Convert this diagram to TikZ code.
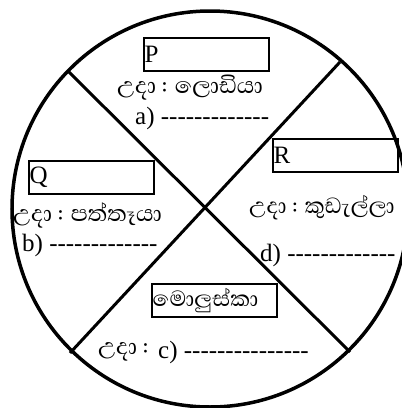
\documentclass[tikz,border=0pt]{standalone}
\usepackage{fontspec}
\setmainfont{Liberation Serif}[Ligatures=TeXOff]
\newfontfamily\sinhfont[Script=Sinhala]{Abhaya Libre}
\begin{document}
\begin{tikzpicture}[x=1pt,y=-1pt,
  boxst/.style={draw, line width=1.6pt, minimum width=125pt, minimum height=33pt, inner sep=0pt, anchor=north west},
  boxlbl/.style={anchor=west, inner sep=1.5pt, font=\fontsize{25}{25}\selectfont},
  sitext/.style={anchor=west, inner sep=0pt, font=\sinhfont\fontsize{29}{29}\selectfont},
  latext/.style={anchor=west, inner sep=0pt, font=\fontsize{25}{25}\selectfont},
  thickln/.style={line width=3pt}]
\useasboundingbox (0,0) rectangle (402,408);
\begin{scope}
\clip (0,0) rectangle (402,408);
% circle
\coordinate (c) at (210,209);
\draw[line width=3.5pt] (c) circle (198);
% cross
\coordinate (ul) at (68,71);
\coordinate (lr) at (350,352);
\coordinate (ur) at (340,62);
\coordinate (ll) at (70,353);
\draw[thickln] (ul) -- (lr);
\draw[thickln] (ur) -- (ll);
% P
\node[boxst] (pbox) at (143,37) {};
\node[boxlbl] (plbl) at (pbox.west) {P};
\node[sitext] (pex) at (117,88) {උදා : ලොඩියා};
\node[latext] (pa) at (135,118) {a) -------------};
% Q
\node[boxst] (qbox) at (28,160) {};
\node[boxlbl] (qlbl) at (qbox.west) {Q};
\node[sitext] (qex) at (13,215) {උදා : පත්තෑයා};
\node[latext] (qb) at (22,245) {b) -------------};
% R
\node[boxst] (rbox) at (272,138) {};
\node[boxlbl] (rlbl) at (rbox.west) {R};
\node[sitext, font=\sinhfont\fontsize{28}{28}\selectfont] (rex) at (249,208) {උදා : කුඩැල්ලා};
\node[latext] (rd) at (260,255) {d) -------------};
% Mollusca
\node[boxst] (mbox) at (151,283) {};
\node[sitext, inner sep=1.5pt, font=\sinhfont\fontsize{28}{28}\selectfont] (mlbl) at (mbox.west) {මොලුස්කා};
\node[sitext] (mex) at (98,352) {උදා :};
\node[latext] (mc) at (158,352) {c) ---------------};
\end{scope}
\end{tikzpicture}
\end{document}
